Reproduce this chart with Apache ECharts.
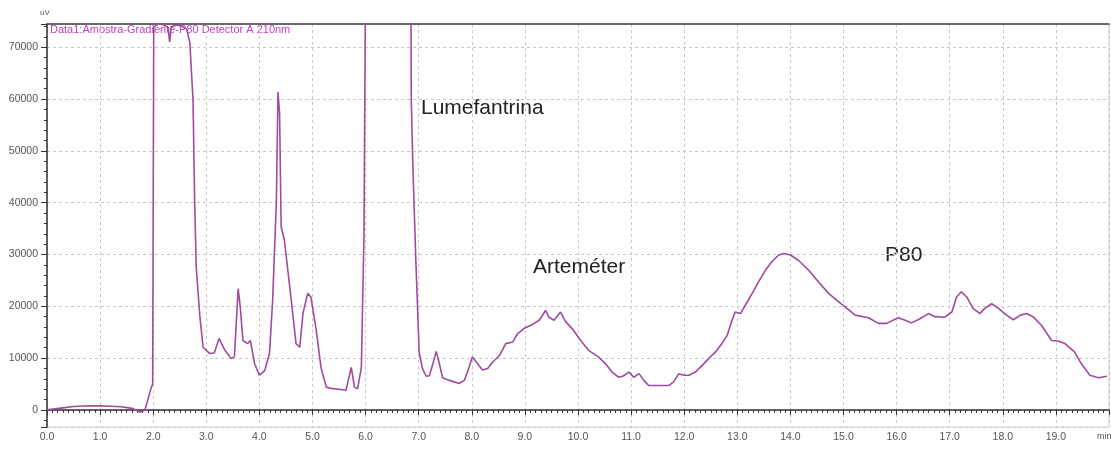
<!DOCTYPE html>
<html>
<head>
<meta charset="utf-8">
<script src="https://cdn.jsdelivr.net/npm/echarts@6/dist/echarts.min.js"></script>
<style>
  html, body { margin: 0; padding: 0; background: #fff; }
  #chart { width: 1111px; height: 450px; }
</style>
</head>
<body>
<div id="chart"></div>
<script>
// retention time (min) and detector response (uV)
const retentionTime = [
  0.0, 0.15, 0.3, 0.5, 0.8, 1.0, 1.2, 1.4, 1.6, 1.75, 1.84, 1.9, 1.96, 1.99,
  2.01, 2.1, 2.2, 2.28, 2.31, 2.34, 2.45, 2.55, 2.63, 2.69, 2.75, 2.78, 2.81, 2.88, 2.94,
  3.06, 3.15, 3.24, 3.35, 3.47, 3.53, 3.6, 3.64, 3.69, 3.78, 3.83, 3.91,
  4.0, 4.1, 4.19, 4.25, 4.32, 4.35, 4.38, 4.41, 4.47, 4.6, 4.69, 4.76, 4.82, 4.91, 4.97,
  5.07, 5.16, 5.26, 5.38, 5.5, 5.63, 5.73, 5.79, 5.85, 5.92, 5.97,
  6.02, 6.4, 6.84, 6.86, 6.89, 6.95,
  7.01, 7.07, 7.14, 7.2, 7.26, 7.33, 7.39, 7.45, 7.58, 7.76, 7.86, 7.95,
  8.01, 8.11, 8.2, 8.3, 8.39, 8.52, 8.64, 8.77, 8.86, 8.98,
  9.14, 9.27, 9.39, 9.45, 9.55, 9.67, 9.77, 9.89,
  10.05, 10.2, 10.39, 10.52, 10.64, 10.77, 10.86, 10.96,
  11.05, 11.15, 11.24, 11.33, 11.52, 11.71, 11.8, 11.9, 11.99,
  12.09, 12.21, 12.34, 12.46, 12.59, 12.71, 12.81, 12.9, 12.96,
  13.06, 13.15, 13.28, 13.4, 13.53, 13.65, 13.78, 13.88,
  14.0, 14.15, 14.34, 14.53, 14.72, 14.87,
  15.03, 15.22, 15.47, 15.66, 15.81,
  16.03, 16.16, 16.28, 16.44, 16.6, 16.72, 16.91,
  17.04, 17.13, 17.22, 17.32, 17.44, 17.57, 17.66, 17.79, 17.92,
  18.07, 18.2, 18.33, 18.45, 18.57, 18.73, 18.92,
  19.04, 19.17, 19.35, 19.48, 19.64, 19.8, 19.96
];
const response = [
  0, 200, 400, 650, 800, 780, 700, 600, 300, -400, -100, 2000, 4200, 5000,
  74000, 74500, 74300, 73800, 71000, 74000, 74300, 74000, 73500, 70900, 59900, 40500, 27600, 17900, 12100,
  10900, 11000, 13800, 11500, 9900, 10300, 23400, 19800, 13400, 12800, 13400, 8900,
  6700, 7600, 10900, 21200, 40500, 61400, 57300, 35300, 32800, 21200, 12800, 12100, 18600, 22500, 21800,
  15400, 8200, 4400, 4100, 4000, 3800, 8200, 4400, 4100, 8200, 34000,
  120000, 300000, 120000, 59900, 47000, 27600,
  11000, 8000, 6500, 6600, 8600, 11300, 8900, 6200, 5700, 5100, 5700, 8300,
  10200, 8900, 7700, 8000, 9200, 10500, 12800, 13100, 14700, 15700,
  16500, 17300, 19200, 17900, 17300, 18900, 17000, 15700,
  13400, 11500, 10200, 8900, 7300, 6300, 6600, 7300,
  6300, 7000, 5700, 4700, 4700, 4700, 5400, 7000, 6700,
  6700, 7300, 8600, 9900, 11200, 12800, 14400, 17300, 18900,
  18600, 20200, 22500, 24700, 27000, 28600, 29900, 30200,
  29900, 28900, 27000, 24700, 22500, 21200,
  19900, 18300, 17800, 16700, 16700,
  17800, 17300, 16800, 17600, 18600, 18000, 17900,
  18900, 21800, 22800, 21800, 19600, 18600, 19600, 20500, 19600,
  18300, 17400, 18300, 18600, 18000, 16300, 13400,
  13300, 12800, 11200, 8900, 6700, 6200, 6500
];

// peak labels and header text
const peakNames = ['Lumefantrina', 'Arteméter', 'P80'];
const headerText = 'Data1:Amostra-Gradiente-P80 Detector A 210nm';

const chart = echarts.init(document.getElementById('chart'));

const tickFont = { color: '#555', fontSize: 10.5, fontFamily: 'Liberation Sans, Arial, sans-serif' };
const gridDash = { color: '#c8c8c8', type: [3, 3], width: 1 };

const option = {
  backgroundColor: '#fff',
  animation: false,
  grid: {
    left: 47, right: 2, top: 24, bottom: 23,
    show: true, borderColor: '#d0d0d0', borderWidth: 1
  },
  xAxis: [{
    type: 'value',
    min: 0,
    max: 20,
    interval: 1,
    axisLine: { lineStyle: { color: '#333', width: 1.5 } },
    axisTick: { length: 5, lineStyle: { color: '#333' } },
    minorTick: { show: true, splitNumber: 10, length: 3, lineStyle: { color: '#333' } },
    axisLabel: {
      ...tickFont,
      margin: 5,
      showMaxLabel: false,
      formatter: v => v.toFixed(1)
    },
    splitLine: { show: true, lineStyle: gridDash }
  }, {
    type: 'value',
    position: 'top',
    min: 0,
    max: 20,
    axisLine: { show: true, lineStyle: { color: '#444', width: 1.5 } },
    axisTick: { show: false },
    axisLabel: { show: false },
    splitLine: { show: false }
  }],
  yAxis: {
    type: 'value',
    min: -3300,
    max: 74500,
    splitNumber: 8,
    axisLine: { show: true, lineStyle: { color: '#333', width: 1.5 } },
    axisTick: { show: true, length: 6, lineStyle: { color: '#333' } },
    minorTick: { show: true, splitNumber: 5, length: 3, lineStyle: { color: '#333' } },
    axisLabel: {
      ...tickFont,
      margin: 9,
      showMinLabel: false,
      showMaxLabel: false,
      formatter: v => String(v)
    },
    splitLine: { show: true, lineStyle: gridDash }
  },
  series: [{
    type: 'line',
    data: retentionTime.map((t, i) => [t, response[i]]),
    showSymbol: false,
    clip: true,
    lineStyle: { color: '#a04aa0', width: 1.6 }
  }],
  graphic: [
    { type: 'text', left: 40, top: 9, style: { text: 'uV', fill: '#555', font: '8px Liberation Sans, Arial' } },
    { type: 'text', left: 1097, top: 432, style: { text: 'min', fill: '#555', font: '9px Liberation Sans, Arial' } },
    { type: 'text', left: 50, top: 24, style: { text: headerText, fill: '#c040c0', font: '11px Liberation Sans, Arial' } },
    { type: 'text', left: 421, top: 98, style: { text: peakNames[0], fill: '#222', font: '21px Liberation Sans, Arial' } },
    { type: 'text', left: 533, top: 257, style: { text: peakNames[1], fill: '#222', font: '21px Liberation Sans, Arial' } },
    { type: 'text', left: 885, top: 245, style: { text: peakNames[2], fill: '#222', font: '21px Liberation Sans, Arial' } }
  ]
};

chart.setOption(option);
</script>
</body>
</html>
